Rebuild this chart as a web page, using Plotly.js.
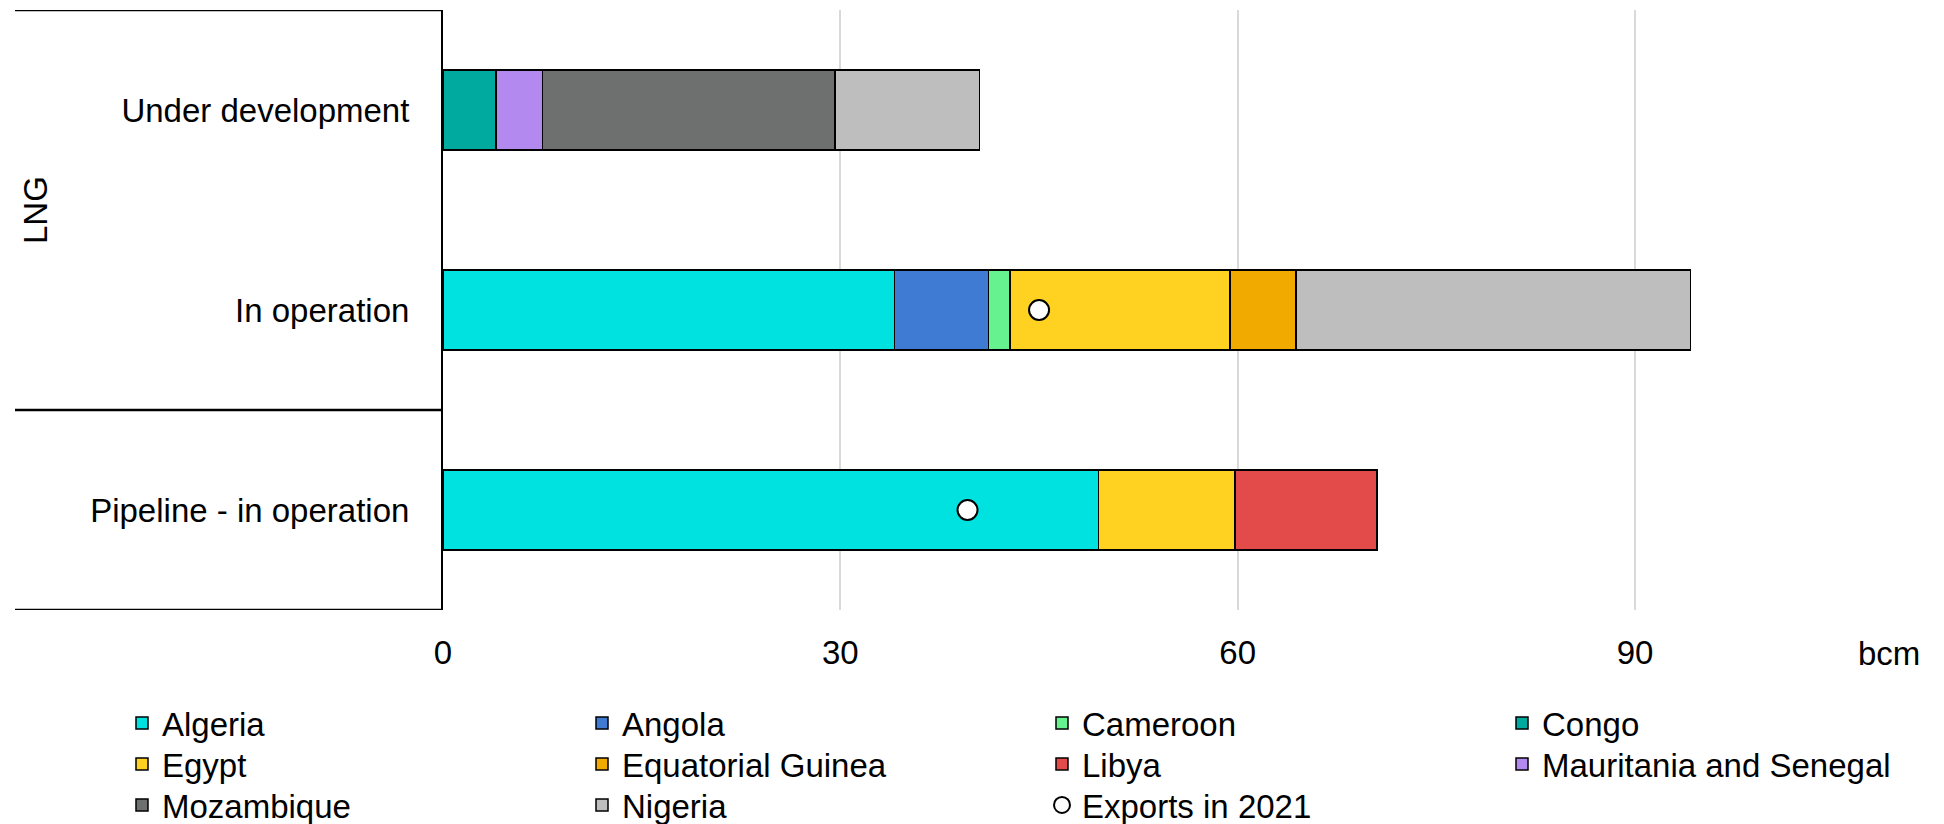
<!DOCTYPE html>
<html><head><meta charset="utf-8">
<script src="https://cdn.plot.ly/plotly-3.0.1.min.js"></script>
<style>html,body{margin:0;padding:0;background:#fff}#chart{width:1944px;height:824px}</style>
</head><body><div id="chart"></div>
<script>
// Categories (bottom to top)
const categories = ['Pipeline - in operation', 'In operation', 'Under development'];
const countries = ['Algeria','Angola','Cameroon','Congo','Egypt','Equatorial Guinea','Libya','Mauritania and Senegal','Mozambique','Nigeria'];
// Values in bcm, in category order [Pipeline - in operation, In operation, Under development]
const algeria           = [49.5, 34.1, null];
const angola            = [null, 7.1, null];
const cameroon          = [null, 1.6, null];
const congo             = [null, null, 4.0];
const egypt             = [10.3, 16.6, null];
const equatorialGuinea  = [null, 5.0, null];
const libya             = [10.7, null, null];
const mauritaniaSenegal = [null, null, 3.5];
const mozambique        = [null, null, 22.1];
const nigeria           = [null, 29.8, 10.9];
const exportCategories  = ['Pipeline - in operation', 'In operation'];
const exports2021       = [39.6, 45.0];
const xTickValues       = [0, 30, 60, 90];
const exportsName       = 'Exports in 2021';
const groupLabel        = 'LNG';
const unitLabel         = 'bcm';

const seriesValues = [algeria, angola, cameroon, congo, egypt, equatorialGuinea, libya, mauritaniaSenegal, mozambique, nigeria];
const seriesColors = ['#00E2E0','#3F7AD3','#65F28F','#00AA9E','#FFD221','#F0AA00','#E34B4B','#B389EF','#6E706F','#BEBEBE'];

const FONT = 'Liberation Sans, Arial, sans-serif';
const FS = 33;
const legendIds = ['legend', 'legend2', 'legend3'];

const traces = countries.map((name, i) => ({
  type: 'bar',
  orientation: 'h',
  name: name,
  y: categories,
  x: seriesValues[i],
  width: 0.4,
  legend: legendIds[Math.floor(i / 4)],
  marker: {color: seriesColors[i], line: {color: '#000', width: 1.5}},
  hoverinfo: 'skip'
}));

traces.push({
  type: 'scatter',
  mode: 'markers',
  name: exportsName,
  y: exportCategories,
  x: exports2021,
  legend: legendIds[2],
  marker: {symbol: 'circle', size: 20, color: '#fff', line: {color: '#000', width: 2}},
  hoverinfo: 'skip'
});

const L = 443, R = 44, T = 10, B = 214;
const W = 1944 - L - R;
const px = v => (v - L) / W;
const py = v => -(v - (824 - B)) / (824 - T - B);

function legendAt(topPx) {
  return {
    orientation: 'h',
    xref: 'paper', yref: 'paper',
    x: px(122), xanchor: 'left',
    y: py(topPx), yanchor: 'top',
    entrywidth: 415, entrywidthmode: 'pixels',
    traceorder: 'normal',
    font: {family: FONT, size: FS, color: '#000'},
    bgcolor: 'rgba(0,0,0,0)',
    itemclick: false, itemdoubleclick: false
  };
}

const layout = {
  width: 1944, height: 824,
  margin: {l: L, r: R, t: T, b: B, autoexpand: false},
  paper_bgcolor: '#fff', plot_bgcolor: '#fff',
  barmode: 'stack',
  showlegend: true,
  font: {family: FONT, size: FS, color: '#000'},
  xaxis: {
    range: [0, 110],
    tickvals: xTickValues,
    showgrid: true, gridcolor: '#D9D9D9', gridwidth: 2,
    zeroline: false, showline: false, ticks: '',
    ticklabelstandoff: 20,
    tickfont: {family: FONT, size: FS, color: '#000'},
    fixedrange: true
  },
  yaxis: {
    type: 'category',
    categoryorder: 'array', categoryarray: categories,
    range: [-0.5, 2.5],
    showgrid: false, zeroline: false,
    showline: true, linecolor: '#000', linewidth: 2,
    ticks: '', ticklabelstandoff: 25,
    tickfont: {family: FONT, size: FS, color: '#000'},
    fixedrange: true
  },
  shapes: [2.5, 0.5, -0.5].map(yv => ({
    type: 'line', xref: 'paper', yref: 'y',
    x0: px(15), x1: 0, y0: yv, y1: yv,
    line: {color: '#000', width: 2.5}
  })),
  annotations: [
    {text: groupLabel, xref: 'paper', yref: 'y', x: px(35), y: 1.5,
     textangle: -90, showarrow: false, xanchor: 'center', yanchor: 'middle',
     font: {family: FONT, size: FS, color: '#000'}},
    {text: unitLabel, xref: 'paper', yref: 'paper', x: px(1889), y: py(653),
     showarrow: false, xanchor: 'center', yanchor: 'middle',
     font: {family: FONT, size: FS, color: '#000'}}
  ],
  legend: legendAt(695),
  legend2: legendAt(736),
  legend3: legendAt(777)
};

Plotly.newPlot('chart', traces, layout, {staticPlot: true, displayModeBar: false});
</script>
</body></html>
